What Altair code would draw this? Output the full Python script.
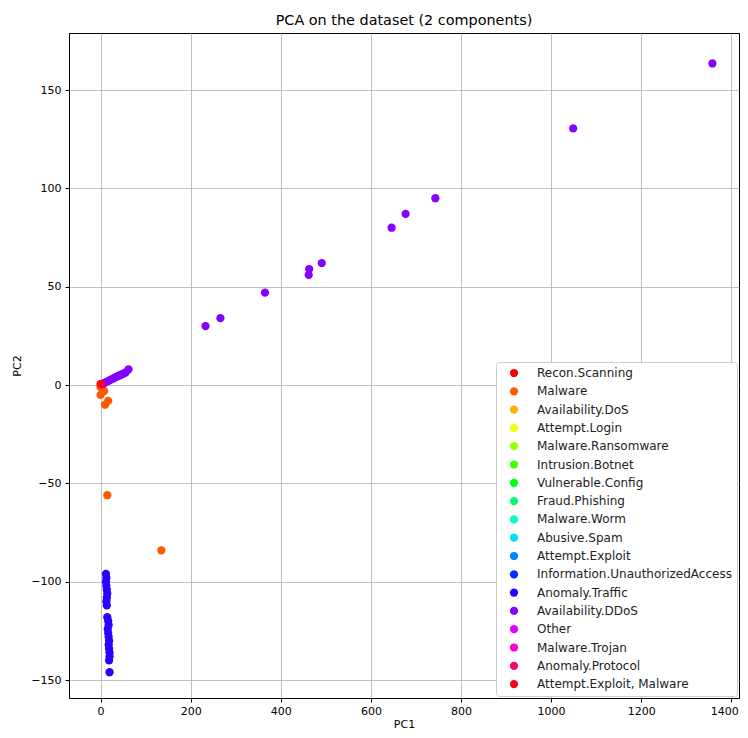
import altair as alt
import pandas as pd

categories = [
    "Recon.Scanning", "Malware", "Availability.DoS", "Attempt.Login",
    "Malware.Ransomware", "Intrusion.Botnet", "Vulnerable.Config",
    "Fraud.Phishing", "Malware.Worm", "Abusive.Spam", "Attempt.Exploit",
    "Information.UnauthorizedAccess", "Anomaly.Traffic", "Availability.DDoS",
    "Other", "Malware.Trojan", "Anomaly.Protocol", "Attempt.Exploit, Malware",
]
colors = [
    "#ff0000", "#ff5900", "#ffb100", "#f4ff00", "#9cff00", "#43ff00",
    "#00ff16", "#00ff6e", "#00ffc7", "#00dfff", "#0086ff", "#002dff",
    "#2b00ff", "#8400ff", "#dc00ff", "#ff00c9", "#ff0071", "#ff0018",
]

recon_x = [0]
recon_y = [0.5]

malware_x = [0, 0, 8, 10, 17, 15, 135]
malware_y = [-1, -5, -3, -10, -8, -56, -84]

traffic_x = [12, 13, 12, 13, 14, 15, 14, 13, 14,
             15, 17, 18, 16, 17, 18, 19, 18, 19, 20, 20, 19, 20]
traffic_y = [-96, -98, -100, -102, -104, -106, -108, -110, -112,
             -118, -120, -122, -124, -126, -128, -130, -132, -134, -136, -138, -140, -146]

ddos_x = [4, 8, 12, 17, 21, 25, 30, 34, 38, 43, 47, 52, 56, 62,
          233, 266, 365, 462, 463, 491, 646, 677, 743, 1049, 1358]
ddos_y = [0.5, 1, 1.5, 2, 2.5, 3, 3.5, 4, 4.5, 5, 5.5, 6, 6.5, 8,
          30, 34, 47, 56, 59, 62, 80, 87, 95, 130.5, 163.5]

exploit_malware_x = [1]
exploit_malware_y = [0.5]

x_ticks = [0, 200, 400, 600, 800, 1000, 1200, 1400]
y_ticks = [-150, -100, -50, 0, 50, 100, 150]

rows = []
for cat, xs, ys in [
    ("Recon.Scanning", recon_x, recon_y),
    ("Malware", malware_x, malware_y),
    ("Anomaly.Traffic", traffic_x, traffic_y),
    ("Availability.DDoS", ddos_x, ddos_y),
    ("Attempt.Exploit, Malware", exploit_malware_x, exploit_malware_y),
]:
    for x, y in zip(xs, ys):
        rows.append({"PC1": x, "PC2": y, "label": cat, "order": categories.index(cat)})
df = pd.DataFrame(rows)

font = "DejaVu Sans"

chart = alt.Chart(df).mark_circle(size=68, opacity=1).encode(
    x=alt.X("PC1:Q", title="PC1",
            scale=alt.Scale(domain=[-70, 1417], nice=False, zero=False),
            axis=alt.Axis(values=x_ticks, format="d", labelFlush=10,
                          labelFlushOffset=7)),
    y=alt.Y("PC2:Q", title="PC2",
            scale=alt.Scale(domain=[-159.1, 179], nice=False, zero=False),
            axis=alt.Axis(values=y_ticks, format="d")),
    color=alt.Color("label:N", sort=categories,
                    scale=alt.Scale(domain=categories, range=colors),
                    legend=alt.Legend(title=None, orient="bottom-right", offset=2,
                                      symbolType="circle", symbolSize=68,
                                      symbolStrokeWidth=0, symbolOpacity=1,
                                      labelFontSize=12, labelFont=font, labelColor="#222222",
                                      padding=5, symbolOffset=7, labelOffset=17,
                                      rowPadding=6.3, fillColor="white",
                                      strokeColor="#cccccc", cornerRadius=3,
                                      labelLimit=400)),
    order=alt.Order("order:Q"),
).properties(
    width=670, height=665,
    title=alt.TitleParams("PCA on the dataset (2 components)", fontSize=14.4,
                          font=font, fontWeight="normal", offset=5, color="black"),
    autosize=alt.AutoSizeParams(type="none"),
    padding={"left": 61, "top": 25, "right": 1, "bottom": 32},
).configure_view(
    stroke="black", strokeWidth=1
).configure_axis(
    domain=False, grid=True, gridColor="#b0b0b0", gridWidth=0.8,
    tickColor="black", tickSize=4, labelFontSize=11, labelFont=font,
    labelColor="black", titleFont=font, titleFontSize=11,
    titleFontWeight="normal", titleColor="black",
).configure_axisX(
    labelPadding=3, titlePadding=2
).configure_axisY(
    labelPadding=4, titlePadding=8
)

chart.save("out.html", embed_options={"renderer": "svg", "actions": False})
